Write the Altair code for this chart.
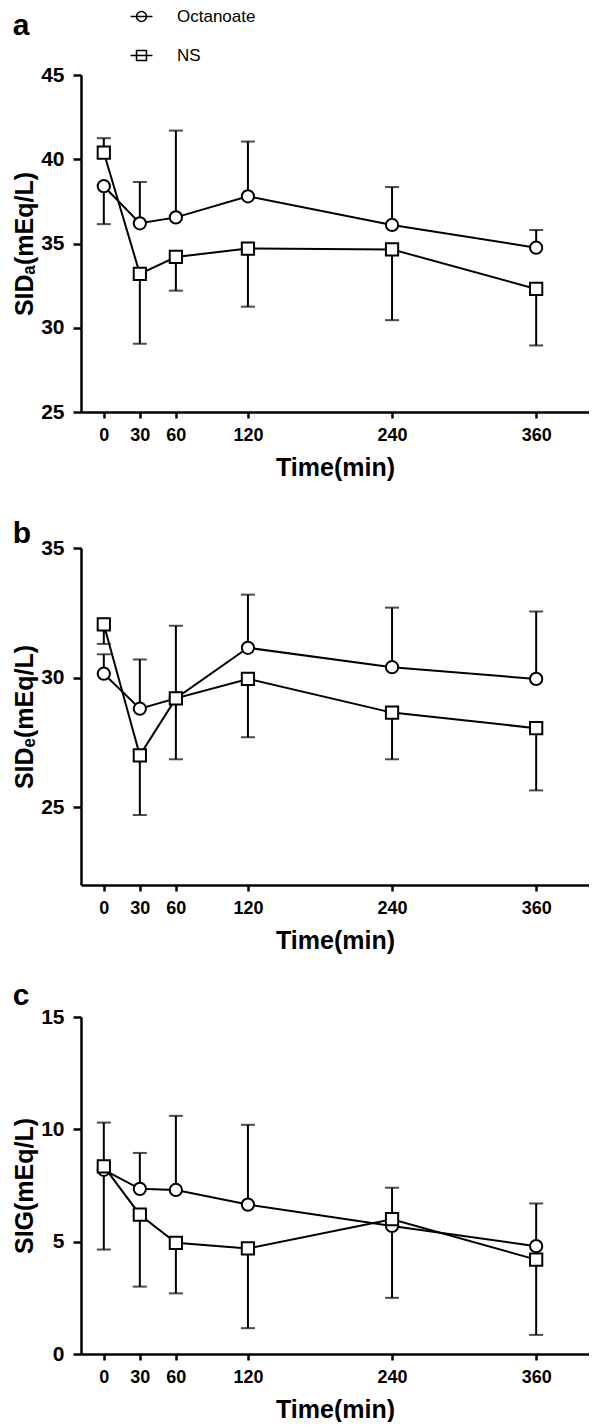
import altair as alt
import pandas as pd

times = [0, 30, 60, 120, 240, 360]
tick_labels_x = [0, 30, 60, 120, 240, 360]
series_names = ["Octanoate", "NS"]

# Panel a: SIDa
a_oct = [38.4, 36.2, 36.55, 37.8, 36.1, 34.75]
a_oct_err = [36.15, 38.65, 41.7, 41.05, 38.35, 35.8]
a_ns = [40.4, 33.2, 34.2, 34.7, 34.65, 32.3]
a_ns_err = [41.25, 29.05, 32.2, 31.25, 30.45, 28.95]

# Panel b: SIDe
b_oct = [30.15, 28.8, 29.2, 31.15, 30.4, 29.95]
b_oct_err = [30.9, 30.7, 32.0, 33.2, 32.7, 32.55]
b_ns = [32.05, 27.0, 29.2, 29.95, 28.65, 28.05]
b_ns_err = [31.3, 24.7, 26.85, 27.7, 26.85, 25.65]

# Panel c: SIG
c_oct = [8.2, 7.35, 7.3, 6.65, 5.7, 4.8]
c_oct_err = [10.3, 8.95, 10.6, 10.2, 7.4, 6.7]
c_ns = [8.35, 6.2, 4.95, 4.7, 6.0, 4.2]
c_ns_err = [4.65, 3.0, 2.7, 1.15, 2.5, 0.85]

FONT = "Liberation Sans, Arial, DejaVu Sans"
W, H = 508, 337
XDOM = [-19, 404]

legend_paths = [
    "M-1.57,0L1.57,0M0.71,0A0.71,0.71,0,1,1,-0.71,0A0.71,0.71,0,1,1,0.71,0",
    "M-1.57,0L1.57,0M-0.71,-0.71L0.71,-0.71L0.71,0.71L-0.71,0.71Z",
]


def make_df(oct_v, oct_e, ns_v, ns_e):
    rows = []
    for t, v, e in zip(times, oct_v, oct_e):
        rows.append({"time": t, "value": v, "err": e, "series": "Octanoate"})
    for t, v, e in zip(times, ns_v, ns_e):
        rows.append({"time": t, "value": v, "err": e, "series": "NS"})
    return pd.DataFrame(rows)


def panel(df, letter, ytitle, ydom, yticks, title_offset, with_legend=False):
    x = alt.X("time:Q", scale=alt.Scale(domain=XDOM, nice=False, zero=False),
              axis=alt.Axis(values=tick_labels_x, title="Time(min)", labelFontSize=18,
                            titleFontSize=25, tickSize=6, labelPadding=8,
                            titlePadding=11))
    y = alt.Y("value:Q", scale=alt.Scale(domain=ydom, nice=False, zero=False),
              axis=alt.Axis(values=yticks, title=ytitle, labelFontSize=21,
                            titleFontSize=25, tickSize=8, labelPadding=9,
                            titlePadding=3))
    base = alt.Chart(df)
    lines = base.mark_line(color="black", strokeWidth=2).encode(
        x=x, y=y, detail="series:N", order="time:Q")
    bars = base.mark_rule(color="black", strokeWidth=2).encode(
        x="time:Q", y="value:Q", y2="err:Q")
    caps = base.mark_tick(color="black", orient="horizontal", size=14, thickness=2).encode(
        x="time:Q", y="err:Q")
    circles = base.transform_filter(alt.datum.series == "Octanoate").mark_point(
        shape="circle", size=150, filled=True, color="white", stroke="black",
        strokeWidth=2, opacity=1).encode(x="time:Q", y="value:Q")
    squares = base.transform_filter(alt.datum.series == "NS").mark_point(
        shape="square", size=150, filled=True, color="white", stroke="black",
        strokeWidth=2, opacity=1).encode(x="time:Q", y="value:Q")
    layers = [lines, bars, caps, circles, squares]
    if with_legend:
        leg = base.transform_filter("false").mark_point(
            filled=False, stroke="black", strokeWidth=1.5, size=196).encode(
            x="time:Q", y="value:Q",
            shape=alt.Shape("series:N",
                            scale=alt.Scale(domain=series_names, range=legend_paths),
                            legend=alt.Legend(
                                orient="none", legendX=52, legendY=-67, title=None,
                                padding=0, rowPadding=21, labelFontSize=17, labelFont=FONT,
                                labelFontWeight="normal", labelOffset=27, symbolSize=196,
                                symbolStrokeWidth=1.5, symbolFillColor="transparent",
                                symbolStrokeColor="black", symbolOpacity=1,
                                labelColor="black")))
        layers.append(leg)
    return alt.layer(*layers).properties(
        width=W, height=H,
        title=alt.TitleParams(letter, anchor="start", frame="bounds", fontSize=30,
                              fontWeight="bold", font=FONT, color="black",
                              offset=title_offset))


pa = panel(make_df(a_oct, a_oct_err, a_ns, a_ns_err), "a", "SIDₐ(mEq/L)", [25, 45],
           [25, 30, 35, 40, 45], 23, with_legend=True)
pb = panel(make_df(b_oct, b_oct_err, b_ns, b_ns_err), "b", "SIDₑ(mEq/L)", [22, 35],
           [25, 30, 35], -12)
pc = panel(make_df(c_oct, c_oct_err, c_ns, c_ns_err), "c", "SIG(mEq/L)", [0, 15],
           [0, 5, 10, 15], -5)

top = alt.vconcat(pa, pb, spacing=39)
chart = alt.vconcat(top, pc, spacing=28).properties(
    padding={"left": 4, "top": 0, "right": 0, "bottom": 0}).configure_view(
    stroke=None).configure_axis(
    domainColor="black", domainWidth=2.5, tickColor="black", tickWidth=2.5,
    labelFont=FONT, labelFontWeight="bold", labelColor="black", titleFont=FONT,
    titleFontWeight="bold", titleColor="black", grid=False)

chart.save("out.html", embed_options={"renderer": "svg", "actions": False})
